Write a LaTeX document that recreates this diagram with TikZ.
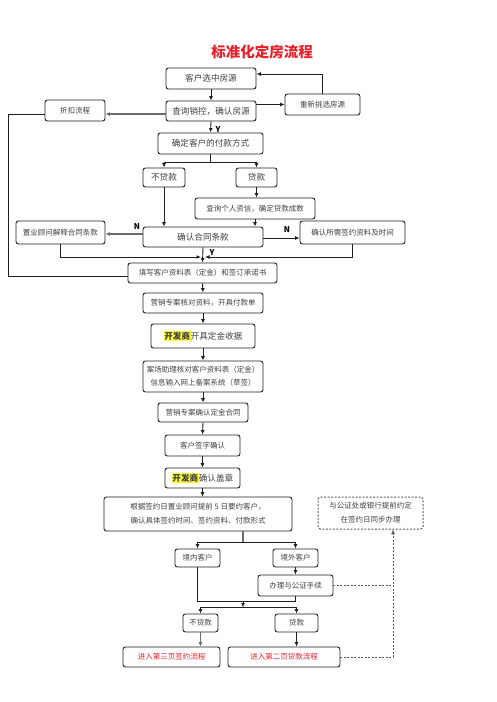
\documentclass[tikz,border=0pt]{standalone}
\usepackage{fontspec}
\setmainfont{Noto Sans CJK SC}
\usetikzlibrary{arrows.meta}
\definecolor{txt}{HTML}{404040}
\definecolor{ln}{HTML}{202020}
\definecolor{redt}{HTML}{E8202A}
\definecolor{hl}{HTML}{FFFF33}
\tikzset{
  box/.style={draw=ln, line width=0.9pt, rounded corners=2.5pt, inner sep=0pt, align=center, text=txt, font=\fontsize{7.5}{10}\selectfont},
  bigbox/.style={box, font=\fontsize{8.6}{11}\selectfont},
  arr/.style={-{Latex[length=4.5pt,width=4pt]}, line width=0.9pt, draw=ln},
  garr/.style={arr, draw=gray!85!black, line width=1.3pt},
  ln/.style={line width=0.9pt, draw=ln},
  gln/.style={line width=1.3pt, draw=gray!85!black},
  dln/.style={line width=1pt, draw=gray!70!black, dash pattern=on 2pt off 1.5pt},
  lab/.style={font=\fontsize{8}{8}\selectfont\bfseries, text=black, inner sep=0pt}
}
\newcommand{\kfs}{\setlength{\fboxsep}{0.6pt}\colorbox{hl}{\bfseries 开发商}}
\begin{document}
\begin{tikzpicture}[x=1pt,y=-1pt]
\useasboundingbox (0,0) rectangle (496,702);
\node[font=\fontsize{14.5}{15}\selectfont\bfseries, text=redt] (title) at (262,52) {标准化定房流程};
\node[bigbox, minimum width=90, minimum height=21] (n1) at (211,78.5) {客户选中房源};
\node[bigbox, minimum width=90, minimum height=20] (n2) at (211,111) {查询销控，确认房源};
\node[box, minimum width=75, minimum height=21] (re) at (322.5,104.5) {重新挑选房源};
\node[box, minimum width=60, minimum height=21] (zk) at (75,110.5) {折扣流程};
\node[bigbox, minimum width=105, minimum height=21] (n3) at (210.5,143.5) {确定客户的付款方式};
\node[bigbox, minimum width=42, minimum height=19] (nl1) at (164,177.5) {不贷款};
\node[bigbox, minimum width=41, minimum height=19] (l1) at (256.5,177.5) {贷款};
\node[box, minimum width=120, minimum height=21] (cr) at (255,208.5) {查询个人资信，确定贷款成数};
\node[bigbox, minimum width=120, minimum height=20] (ct) at (203,237) {确认合同条款};
\node[box, minimum width=89, minimum height=23] (ex) at (60.5,232.5) {置业顾问解释合同条款};
\node[box, minimum width=105, minimum height=23] (cd) at (352.5,232.5) {确认所需签约资料及时间};
\node[box, minimum width=149, minimum height=20] (fill) at (202.5,273) {填写客户资料表（定金）和签订承诺书};
\node[box, minimum width=120, minimum height=20] (vf) at (203,303) {营销专案核对资料，开具付款单};
\node[bigbox, minimum width=104, minimum height=24] (rc) at (203,336) {\kfs 开具定金收据};
\node[box, minimum width=120, minimum height=31, font=\fontsize{7.5}{13}\selectfont] (as) at (203,376.5) {案场助理核对客户资料表（定金）\\信息输入网上备案系统（草签）};
\node[box, minimum width=90, minimum height=19] (dc) at (203,412.5) {营销专案确认定金合同};
\node[box, minimum width=75, minimum height=21] (sg) at (202.5,445.5) {客户签字确认};
\node[bigbox, minimum width=75, minimum height=20] (st) at (202.5,478) {\kfs 确认盖章};
\node[box, minimum width=188, minimum height=34, font=\fontsize{7.5}{14}\selectfont] (nt) at (198,514) {根据签约日置业顾问提前 5 日要约客户，\\确认具体签约时间、签约资料、付款形式};
\node[box, dln, text=txt, minimum width=105, minimum height=32, font=\fontsize{7.5}{14}\selectfont] (no) at (370.5,513) {与公证处或银行提前约定\\在签约日同步办理};
\node[box, minimum width=45, minimum height=18] (dom) at (197.5,558) {境内客户};
\node[box, minimum width=45, minimum height=18] (fo) at (295.5,558) {境外客户};
\node[box, minimum width=75, minimum height=21] (pr) at (295.5,585.5) {办理与公证手续};
\node[box, minimum width=35, minimum height=18] (nl2) at (200.5,623) {不贷款};
\node[box, minimum width=43, minimum height=18] (l2) at (296.5,623) {贷款};
\node[box, text=redt, minimum width=97, minimum height=20] (p3) at (171.5,657) {进入第三页签约流程};
\node[box, text=redt, minimum width=112, minimum height=20] (p2) at (284,657) {进入第二页贷款流程};
% connectors top
\draw[arr] (n1.south) -- (n2.north);
\draw[arr] (n2.east |- re.west) -- (re.west);
\draw[arr] (re.north) |- ([yshift=4.5pt]n1.east);
\draw[garr] ([yshift=-3pt]n2.west) -- ([yshift=-3pt]n2.west -| zk.east);
\coordinate (lt) at (8,114);
\coordinate (lb) at (8,276);
\draw[ln] (zk.west |- lt) -- (lt) -- (lb) -- (fill.west |- lb);
\draw[arr] (n2.south) -- (n3.north);
\node[lab] (y1) at (218,130) {Y};
\coordinate (j1) at (210.5,162);
\draw[ln] (n3.south) -- (j1);
\draw[arr] (j1) -| (nl1.north);
\draw[arr] (j1) -| (l1.north);
\draw[arr] (l1.south) -- (l1.south |- cr.north);
\draw[arr] (nl1.south) -- (nl1.south |- ct.north);
\draw[arr] (cr.south) -- (cr.south |- ct.north);
\draw[garr] ([yshift=3pt]ct.west) -- ([yshift=3pt]ct.west -| ex.east);
\node[lab] (nn1) at (137,227) {N};
\draw[arr] ([yshift=-1pt]ct.east) -- ([yshift=-1pt]ct.east -| cd.west);
\node[lab] (nn2) at (287,230) {N};
\coordinate (j2) at (203,257);
\draw[arr] (ex.south) |- ([xshift=-2pt]j2);
\draw[arr] (cd.south) |- ([xshift=2pt]j2);
\draw[arr] (ct.south) -- (fill.north);
\node[lab] (y2) at (212,253) {Y};
% chain
\draw[arr] (fill.south) -- (vf.north);
\draw[arr] (vf.south) -- (rc.north);
\draw[arr] (rc.south) -- (as.north);
\draw[arr] (as.south) -- (dc.north);
\draw[arr] (dc.south) -- (sg.north);
\draw[arr] (sg.south) -- (st.north);
\draw[arr] (st.south) -- (st.south |- nt.north);
% bottom
\coordinate (j3) at (243,542);
\draw[gln] (j3 |- nt.south) -- (j3);
\draw[arr] (j3) -| (dom.north);
\draw[arr] (j3) -| (fo.north);
\draw[arr] (fo.south) -- (pr.north);
\coordinate (j4) at (243,601);
\coordinate (j5) at (243,607.5);
\draw[ln] (dom.south) |- (j4);
\draw[ln] (pr.south) |- (j4);
\draw[arr] (j4) -- (j5);
\draw[arr] (j5) -| (nl2.north);
\draw[arr] (j5) -| (l2.north);
\draw[garr] (nl2.south) -- (nl2.south |- p3.north);
\draw[arr] (l2.south) -- (l2.south |- p2.north);
\coordinate (dcn) at (393,657);
\draw[dln] (pr.east) -- (pr.east -| dcn);
\draw[dln, -{Latex[length=4.5pt,width=4pt]}] (p2.east) -- (dcn) -- (dcn |- no.south);
\end{tikzpicture}
\end{document}
